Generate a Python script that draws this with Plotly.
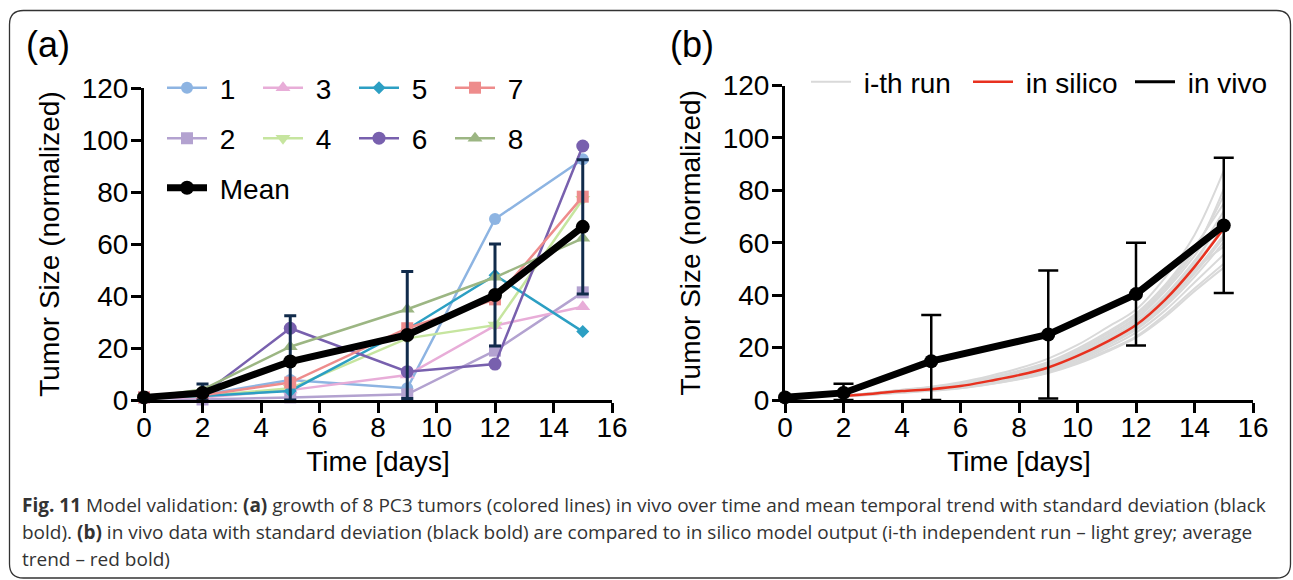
import numpy as np
import plotly.graph_objects as go

W, H = 1293, 580

# ---------------- data ----------------
days = [0, 2, 5, 9, 12, 15]
tumor_names = ["1", "2", "3", "4", "5", "6", "7", "8"]
tumor_1 = [1, 2.0, 7.7, 4.5, 69.6, 92.6]
tumor_2 = [1, 0.2, 1.0, 2.2, 19.0, 41.4]
tumor_3 = [1, 1.0, 3.8, 9.6, 28.6, 35.9]
tumor_4 = [1, 1.5, 4.5, 23.7, 28.8, 77.2]
tumor_5 = [1, 1.5, 3.5, 27.2, 48.0, 26.3]
tumor_6 = [1, 2.0, 27.6, 10.9, 13.8, 97.7]
tumor_7 = [1, 1.8, 6.7, 27.6, 38.7, 78.2]
tumor_8 = [1, 4.0, 20.5, 34.9, 47.2, 62.2]
mean_vivo = [1, 2.7, 14.8, 25.0, 40.4, 66.6]
sd_vivo = [0, 3.5, 17.6, 24.4, 19.6, 25.8]

sim_days = [2, 3, 4, 5, 6, 7, 8, 9, 10, 11, 12, 13, 14, 15]
in_silico = [1.5, 2.4, 3.4, 4.1, 5.3, 7.3, 9.5, 12.4, 16.8, 22.2, 28.6, 38.3, 50.8, 65.4]
run_01 = [1.5, 2.6, 3.8, 4.9, 6.4, 8.6, 11.2, 14.5, 19.6, 25.8, 33.0, 44.0, 58.5, 75.0]
run_02 = [1.4, 2.2, 3.1, 3.8, 4.9, 6.6, 8.7, 11.4, 15.3, 20.6, 26.8, 35.7, 47.0, 60.2]
run_03 = [1.6, 2.7, 3.9, 5.1, 6.8, 9.2, 12.1, 15.8, 21.0, 27.6, 34.5, 46.8, 63.0, 87.5]
run_04 = [1.3, 2.1, 2.9, 3.6, 4.6, 6.1, 8.0, 10.5, 14.1, 18.9, 24.2, 32.6, 42.5, 52.0]
run_05 = [1.5, 2.5, 3.5, 4.3, 5.6, 7.6, 9.9, 13.1, 17.6, 23.0, 29.9, 40.1, 53.2, 68.8]
run_06 = [1.4, 2.3, 3.2, 4.0, 5.1, 6.9, 9.1, 11.9, 16.0, 21.3, 27.5, 37.0, 49.1, 63.0]
run_07 = [1.6, 2.6, 3.7, 4.6, 6.0, 8.1, 10.6, 13.9, 18.5, 24.4, 31.6, 42.5, 56.8, 80.5]
run_08 = [1.5, 2.4, 3.3, 4.2, 5.4, 7.3, 9.6, 12.6, 16.9, 22.4, 28.9, 38.8, 51.5, 66.0]
run_09 = [1.3, 2.2, 3.0, 3.7, 4.8, 6.4, 8.4, 11.0, 14.7, 19.8, 25.7, 34.2, 44.8, 55.5]
run_10 = [1.5, 2.5, 3.6, 4.5, 5.8, 7.9, 10.3, 13.5, 18.1, 23.8, 30.8, 41.6, 55.0, 72.0]
run_11 = [1.4, 2.3, 3.3, 4.1, 5.2, 7.0, 9.2, 12.1, 16.3, 21.7, 28.0, 37.5, 49.8, 58.5]
run_12 = [1.6, 2.7, 3.8, 4.8, 6.2, 8.4, 10.9, 14.2, 19.0, 25.1, 32.4, 43.4, 57.6, 78.0]
run_13 = [1.4, 2.2, 3.1, 3.9, 5.0, 6.7, 8.9, 11.6, 15.6, 20.9, 27.1, 36.3, 48.2, 62.0]
run_14 = [1.5, 2.4, 3.4, 4.3, 5.5, 7.5, 9.8, 12.8, 17.2, 22.7, 29.4, 39.5, 52.4, 70.0]
run_15 = [1.3, 2.0, 2.8, 3.5, 4.5, 6.0, 7.9, 10.3, 13.8, 18.4, 23.8, 31.8, 41.5, 50.5]

x_ticks = [0, 2, 4, 6, 8, 10, 12, 14, 16]
y_ticks = [0, 20, 40, 60, 80, 100, 120]

tumors = [tumor_1, tumor_2, tumor_3, tumor_4, tumor_5, tumor_6, tumor_7, tumor_8]
runs = [run_01, run_02, run_03, run_04, run_05, run_06, run_07, run_08,
        run_09, run_10, run_11, run_12, run_13, run_14, run_15]

# ---------------- styles ----------------
colors = ["#8DB4E2", "#B3A2D0", "#E8ADD8", "#C6E59F", "#2C9FC3", "#7860AE", "#EE8C8C", "#9CB683"]
symbols = ["circle", "square", "triangle-up", "triangle-down", "diamond", "circle", "square", "triangle-up"]
msizes = [12, 12, 13, 13, 10, 13, 12, 13]
legend_of = ["legend", "legend2", "legend", "legend2", "legend", "legend2", "legend", "legend2"]
FONT = "Liberation Sans, Arial, sans-serif"
NB = "\u00a0"

fig = go.Figure()

for i, t in enumerate(tumors):
    fig.add_trace(go.Scatter(
        x=days, y=t, name=NB + tumor_names[i], mode="lines+markers",
        line=dict(color=colors[i], width=2.5),
        marker=dict(symbol=symbols[i], size=msizes[i], color=colors[i]),
        cliponaxis=False, legend=legend_of[i],
        xaxis="x", yaxis="y"))

mean_arr = np.array(mean_vivo)
sd_arr = np.array(sd_vivo)
err_minus = np.minimum(sd_arr, mean_arr)

fig.add_trace(go.Scatter(
    x=days, y=mean_vivo, name=NB + "Mean", mode="lines+markers",
    line=dict(color="black", width=7),
    marker=dict(symbol="circle", size=14, color="black"),
    error_y=dict(type="data", array=sd_vivo, arrayminus=err_minus.tolist(), symmetric=False,
                 color="#112B4B", thickness=3, width=6),
    cliponaxis=False, legend="legend3", xaxis="x", yaxis="y"))

# panel b
for k, r in enumerate(runs):
    fig.add_trace(go.Scatter(
        x=sim_days, y=r, name=NB + "i-th run", mode="lines", line_shape="spline",
        line=dict(color="#D9D9D9", width=2), showlegend=(k == 0),
        legend="legend4", cliponaxis=False, xaxis="x2", yaxis="y2"))

fig.add_trace(go.Scatter(
    x=sim_days, y=in_silico, name=NB + "in silico", mode="lines", line_shape="spline",
    line=dict(color="#E8311F", width=2.5), legend="legend4", cliponaxis=False,
    xaxis="x2", yaxis="y2"))

fig.add_trace(go.Scatter(
    x=days, y=mean_vivo, name="in vivo", mode="lines+markers",
    line=dict(color="black", width=7),
    marker=dict(symbol="circle", size=14, color="black"),
    error_y=dict(type="data", array=sd_vivo, arrayminus=err_minus.tolist(), symmetric=False,
                 color="black", thickness=2.5, width=10),
    cliponaxis=False, showlegend=False, xaxis="x2", yaxis="y2"))
# legend-only entry for in vivo (thin line sample, as in the reference legend)
fig.add_trace(go.Scatter(
    x=[None], y=[None], name=NB + "in vivo", mode="lines",
    line=dict(color="black", width=3), legend="legend4", xaxis="x2", yaxis="y2"))

# ---------------- axes ----------------
def px_x(p):
    return p / W

def px_y(p):
    return 1 - p / H

axis_common = dict(showline=True, linecolor="black", linewidth=3, ticks="outside",
                   ticklen=10, tickwidth=3, tickcolor="black", showgrid=False,
                   zeroline=False, automargin=False,
                   tickfont=dict(family=FONT, size=28, color="black"))
x_extra = dict(ticklabelstandoff=-10)
y_extra = dict(ticklabelstandoff=-3)

fig.update_layout(
    width=W, height=H, margin=dict(l=0, r=0, t=0, b=0, autoexpand=False),
    paper_bgcolor="white", plot_bgcolor="white",
    font=dict(family=FONT, size=28, color="black"),
    xaxis=dict(domain=[px_x(144), px_x(612)], range=[0, 16], tickvals=x_ticks,
               title=dict(text="Time [days]", font=dict(size=28), standoff=10),
               anchor="y", **axis_common, **x_extra),
    yaxis=dict(domain=[px_y(400), px_y(88)], range=[0, 120], tickvals=y_ticks,
               title=dict(text="Tumor Size (normalized)", font=dict(size=28), standoff=14),
               anchor="x", **axis_common, **y_extra),
    xaxis2=dict(domain=[px_x(785), px_x(1253)], range=[0, 16], tickvals=x_ticks,
                title=dict(text="Time [days]", font=dict(size=28), standoff=10),
                anchor="y2", **axis_common, **x_extra),
    yaxis2=dict(domain=[px_y(400), px_y(85.5)], range=[0, 120], tickvals=y_ticks,
                title=dict(text="Tumor Size (normalized)", font=dict(size=28), standoff=14),
                anchor="x2", **axis_common, **y_extra),
)

leg_common = dict(orientation="h", bgcolor="rgba(0,0,0,0)", itemwidth=40,
                  font=dict(family=FONT, size=28, color="black"),
                  xanchor="left", yanchor="middle", itemclick=False, tracegroupgap=0)
fig.update_layout(
    legend=dict(x=px_x(162), y=px_y(88), entrywidth=41, entrywidthmode="pixels", **leg_common),
    legend2=dict(x=px_x(162), y=px_y(138.5), entrywidth=41, entrywidthmode="pixels", **leg_common),
    legend3=dict(x=px_x(162), y=px_y(188), **leg_common),
    legend4=dict(x=px_x(806), y=px_y(82), entrywidth=107, entrywidthmode="pixels", **leg_common),
)

# ---------------- annotations ----------------
ann = [
    dict(text="(a)", x=px_x(24), y=px_y(44), xanchor="left", yanchor="middle",
         font=dict(family=FONT, size=36, color="black")),
    dict(text="(b)", x=px_x(668), y=px_y(44), xanchor="left", yanchor="middle",
         font=dict(family=FONT, size=36, color="black")),
]
CAP = "Open Sans, Noto Sans, sans-serif"
cap_lines = [
    "<b>Fig. 11</b> Model validation: <b>(a)</b> growth of 8 PC3 tumors (colored lines) in vivo over time and mean temporal trend with standard deviation (black",
    "bold). <b>(b)</b> in vivo data with standard deviation (black bold) are compared to in silico model output (i-th independent run \u2013 light grey; average",
    "trend \u2013 red bold)",
]
for j, ln in enumerate(cap_lines):
    ann.append(dict(text=ln, x=px_x(20), y=px_y(505 + 27 * j), xanchor="left", yanchor="middle",
                    font=dict(family=CAP, size=19, color="#333333")))
for a in ann:
    a.update(xref="paper", yref="paper", showarrow=False)
fig.update_layout(annotations=ann)

# rounded frame
x0, y0, x1, y1, r = 9.5, 10.5, 1290.5, 578, 14
path = (f"M {px_x(x0 + r)},{px_y(y0)} L {px_x(x1 - r)},{px_y(y0)} Q {px_x(x1)},{px_y(y0)} {px_x(x1)},{px_y(y0 + r)} "
        f"L {px_x(x1)},{px_y(y1 - r)} Q {px_x(x1)},{px_y(y1)} {px_x(x1 - r)},{px_y(y1)} "
        f"L {px_x(x0 + r)},{px_y(y1)} Q {px_x(x0)},{px_y(y1)} {px_x(x0)},{px_y(y1 - r)} "
        f"L {px_x(x0)},{px_y(y0 + r)} Q {px_x(x0)},{px_y(y0)} {px_x(x0 + r)},{px_y(y0)} Z")
fig.add_shape(type="path", path=path, xref="paper", yref="paper",
              line=dict(color="#333333", width=1.3), layer="below")

fig.write_html("out.html", config={"displayModeBar": False},
               post_script="document.body.style.margin='0px';document.body.style.overflow='hidden';")
